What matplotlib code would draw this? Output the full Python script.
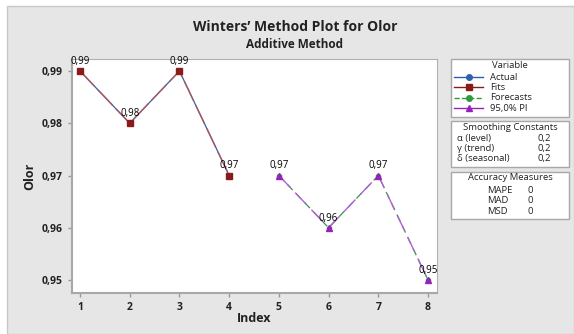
import matplotlib
matplotlib.use("Agg")
import matplotlib.pyplot as plt
from matplotlib.patches import Rectangle
from matplotlib.lines import Line2D

plt.rcParams['font.family'] = ['Open Sans', 'DejaVu Sans']

# data
idx_actual = [1, 2, 3, 4]
actual = [0.99, 0.98, 0.99, 0.97]
fits = [0.99, 0.98, 0.99, 0.97]
idx_fc = [5, 6, 7, 8]
forecasts = [0.97, 0.96, 0.97, 0.95]
pi_upper = [0.97, 0.96, 0.97, 0.95]
pi_lower = [0.97, 0.96, 0.97, 0.95]
xticks = [1, 2, 3, 4, 5, 6, 7, 8]
yticks = [0.95, 0.96, 0.97, 0.98, 0.99]
smooth_names = ["\u03b1 (level)", "\u03b3 (trend)", "\u03b4 (seasonal)"]
smooth_vals = ["0,2", "0,2", "0,2"]
acc_names = ["MAPE", "MAD", "MSD"]
acc_vals = ["0", "0", "0"]

c_blue = '#2a62b0'
c_red = '#8b1a1a'
c_green = '#2e9a3e'
c_purple = '#9a1fc0'
W, H = 574, 334

def fx(px):
    return px / W

def fy(py):
    return 1 - py / H

fig = plt.figure(figsize=(5.74, 3.34), dpi=100)
fig.patch.set_facecolor('white')
fig.patches.append(Rectangle((fx(7), 0), 1 - fx(7), fy(6), transform=fig.transFigure,
                             facecolor='#e6e6e6', edgecolor='#c8c8c8', lw=1, zorder=-10))

ax = fig.add_axes([fx(72), fy(293), fx(437) - fx(72), fy(59) - fy(293)])
ax.set_zorder(2)
ax.set_facecolor('white')

ax.plot(idx_actual, actual, color=c_blue, lw=0.9, marker='o', ms=3, zorder=3)
ax.plot(idx_actual, fits, color='#c0504d', lw=1.1, alpha=0.75, dashes=(14, 3), zorder=4)
ax.plot(idx_actual, fits, color=c_red, lw=0, marker='s', ms=4.5, zorder=5)
ax.plot(idx_fc, forecasts, color=c_green, lw=0.9, dashes=(6, 4), marker='o', ms=3, zorder=3)
ax.plot(idx_fc, pi_upper, color='#b060d8', lw=1.0, dashes=(12, 5), zorder=4)
ax.plot(idx_fc, pi_lower, color=c_purple, lw=0, marker='^', ms=5, zorder=5)

for xs, ys in [(idx_actual, actual), (idx_fc, forecasts)]:
    for x, y in zip(xs, ys):
        ax.annotate(f"{y:.2f}".replace('.', ','), (x, y), xytext=(0, 3),
                    textcoords='offset points', ha='center', va='bottom',
                    fontsize=7, color='black', zorder=6)

ax.set_xlim(0.839, 8.18)
ax.set_ylim(0.94751, 0.99230)
ax.set_xticks(xticks)
ax.set_xticklabels([str(t) for t in xticks])
ax.set_yticks(yticks)
ax.set_yticklabels([f"{t:.2f}".replace('.', ',') for t in yticks])
ax.tick_params(colors='#999999', labelcolor='#222222', labelsize=7.5, length=3, width=1)
for lab in ax.get_xticklabels() + ax.get_yticklabels():
    lab.set_fontweight('bold')
for s in ['top', 'right']:
    ax.spines[s].set_color('#b0b0b0')
    ax.spines[s].set_linewidth(0.8)
for s in ['left', 'bottom']:
    ax.spines[s].set_color('#a8a8a8')
    ax.spines[s].set_linewidth(1.5)

ax.set_xlabel("Index", fontsize=9, fontweight='bold', color='#222222', labelpad=-1)
ax.set_ylabel("Olor", fontsize=9, fontweight='bold', color='#222222', labelpad=4)

fig.text(fx(295), fy(27), "Winters\u2019 Method Plot for Olor", ha='center', va='center',
         fontsize=10, fontweight='bold', color='#222222')
fig.text(fx(295), fy(44), "Additive Method", ha='center', va='center',
         fontsize=8.5, fontweight='bold', color='#222222')

# side boxes
boxes = [(59, 117), (121, 167), (172, 219)]
for top, bot in boxes:
    fig.patches.append(Rectangle((fx(451), fy(bot)), fx(569) - fx(451), fy(top) - fy(bot),
                                 transform=fig.transFigure, facecolor='white',
                                 edgecolor='#a8a8a8', lw=1, zorder=1))

txt = dict(fontsize=6.8, color='#222222', va='center', zorder=3)
fig.text(fx(510), fy(65), "Variable", ha='center', **txt)
entries = [("Actual", c_blue, 'o', '-', 77),
           ("Fits", c_red, 's', '-', 87),
           ("Forecasts", c_green, 'o', '--', 98),
           ("95,0% PI", c_purple, '^', '-', 108)]
for name, col, mk, ls, py in entries:
    fig.lines.append(Line2D([fx(454), fx(483)], [fy(py), fy(py)], transform=fig.transFigure,
                            color=col, lw=1, ls=ls, zorder=2))
    fig.lines.append(Line2D([fx(468.5)], [fy(py)], transform=fig.transFigure,
                            color=col, marker=mk, ms=4, lw=0, zorder=3))
    fig.text(fx(490), fy(py), name, ha='left', **txt)

fig.text(fx(510), fy(128), "Smoothing Constants", ha='center', **txt)
for i, (n, v) in enumerate(zip(smooth_names, smooth_vals)):
    fig.text(fx(457), fy(138 + i * 10.5), n, ha='left', **txt)
    fig.text(fx(537), fy(138 + i * 10.5), v, ha='left', **txt)

fig.text(fx(510), fy(178), "Accuracy Measures", ha='center', **txt)
for i, (n, v) in enumerate(zip(acc_names, acc_vals)):
    fig.text(fx(487), fy(190 + i * 10.5), n, ha='left', **txt)
    fig.text(fx(527), fy(190 + i * 10.5), v, ha='left', **txt)

fig.savefig("out.png", dpi=100)
